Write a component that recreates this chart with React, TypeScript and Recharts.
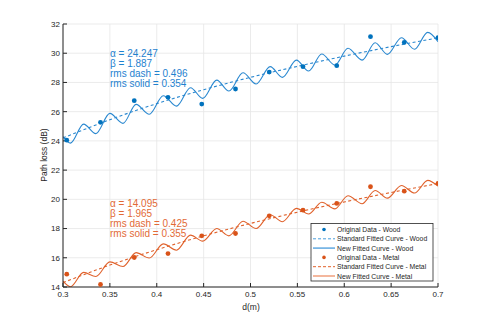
import {
  CartesianGrid,
  ComposedChart,
  Line,
  Scatter,
  XAxis,
  YAxis,
} from "recharts";

// measured points
const distance = [0.304, 0.34, 0.376, 0.412, 0.448, 0.484, 0.52, 0.556, 0.592, 0.628, 0.664, 0.7];
const woodMeasured = [24.05, 25.27, 26.75, 26.98, 26.52, 27.55, 28.71, 29.08, 29.15, 31.13, 30.74, 31.06];
const metalMeasured = [14.88, 14.17, 16.02, 16.29, 17.5, 17.66, 18.87, 19.26, 19.72, 20.86, 20.56, 21.09];

// standard (log-distance) fit
const fitDistance = [0.3, 0.35, 0.4, 0.45, 0.5, 0.55, 0.6, 0.65, 0.7];
const woodStandardFit = [24.2, 25.45, 26.55, 27.5, 28.35, 29.1, 29.8, 30.45, 31.05];
const metalStandardFit = [14.3, 15.5, 16.55, 17.5, 18.35, 19.12, 19.82, 20.47, 21.08];

// new fit: peaks and troughs of the wavy solid curves
const wavyDistance = [
  0.3, 0.308, 0.322, 0.335, 0.35, 0.364, 0.378, 0.392, 0.407, 0.421, 0.436, 0.449, 0.464, 0.477, 0.492,
  0.506, 0.521, 0.534, 0.549, 0.562, 0.576, 0.59, 0.604, 0.619, 0.633, 0.646, 0.661, 0.675, 0.689, 0.7,
];
const woodNewFit = [
  24.3, 23.85, 25.15, 24.5, 25.88, 25.2, 26.5, 25.82, 27.09, 26.38, 27.64, 26.91, 28.16, 27.41, 28.66,
  27.89, 29.08, 28.35, 29.53, 28.78, 29.95, 29.19, 30.34, 29.53, 30.72, 29.92, 31.06, 30.27, 31.43, 30.79,
];
const metalNewFit = [
  14.4, 14.02, 15.0, 14.72, 15.72, 15.4, 16.35, 15.98, 16.95, 16.52, 17.55, 17.14, 18.0, 17.5, 18.5,
  18.0, 18.95, 18.47, 19.38, 19.0, 19.8, 19.35, 20.25, 19.7, 20.6, 20.08, 20.95, 20.43, 21.3, 20.9,
];

const xTicks = [0.3, 0.35, 0.4, 0.45, 0.5, 0.55, 0.6, 0.65, 0.7];
const yTicks = [14, 16, 18, 20, 22, 24, 26, 28, 30, 32];

const woodNote = ["α = 24.247", "β = 1.887", "rms dash = 0.496", "rms solid = 0.354"];
const metalNote = ["α = 14.095", "β = 1.965", "rms dash = 0.425", "rms solid = 0.355"];

const legendItems = [
  { label: "Original Data - Wood", kind: "dot", color: "#0072BD" },
  { label: "Standard Fitted Curve - Wood", kind: "dash", color: "#4a9fdc" },
  { label: "New Fitted Curve - Wood", kind: "solid", color: "#6aaee2" },
  { label: "Original Data - Metal", kind: "dot", color: "#D95319" },
  { label: "Standard Fitted Curve - Metal", kind: "dash", color: "#e2622a" },
  { label: "New Fitted Curve - Metal", kind: "solid", color: "#f2a585" },
];

const WOOD = "#0072BD";
const WOOD_LINE = "#2a88d0";
const METAL = "#D95319";
const METAL_LINE = "#e0622c";
const FONT = "'Liberation Sans', Arial, sans-serif";

const zip = (xs: number[], ys: number[]) => xs.map((d, i) => ({ d, pl: ys[i] }));

const dot = (color: string) => (props: any) =>
  <circle cx={props.cx} cy={props.cy} r={2.4} fill={color} />;

const fmtX = (v: number) => `${v}`;

export default function App() {
  const tickStyle = { fontSize: 8, fill: "#262626", fontFamily: FONT };
  return (
    <div style={{ position: "absolute", left: 0, top: 0, background: "#fff" }}>
      <ComposedChart
        width={485}
        height={323}
        margin={{ top: 24, right: 47, bottom: 16, left: 23 }}
      >
        <CartesianGrid stroke="#e6e6e6" strokeWidth={0.8} />
        <XAxis
          type="number"
          dataKey="d"
          domain={[0.3, 0.7]}
          ticks={xTicks}
          tickFormatter={fmtX}
          height={20}
          tickSize={-4}
          tickMargin={8}
          tick={tickStyle}
          stroke="#262626"
          allowDataOverflow
        />
        <XAxis
          xAxisId="top"
          orientation="top"
          type="number"
          dataKey="d"
          domain={[0.3, 0.7]}
          ticks={xTicks}
          height={0}
          tickSize={-4}
          tick={false}
          stroke="#262626"
        />
        <YAxis
          type="number"
          domain={[14, 32]}
          ticks={yTicks}
          width={40}
          tickSize={-4}
          tickMargin={7}
          tick={tickStyle}
          stroke="#262626"
          allowDataOverflow
        />
        <YAxis
          yAxisId="right"
          orientation="right"
          type="number"
          domain={[14, 32]}
          ticks={yTicks}
          width={0}
          tickSize={-4}
          tick={false}
          stroke="#262626"
        />
        <Line
          data={zip(wavyDistance, woodNewFit)}
          dataKey="pl"
          type="monotone"
          stroke={WOOD_LINE}
          strokeWidth={1.1}
          dot={false}
          isAnimationActive={false}
        />
        <Line
          data={zip(fitDistance, woodStandardFit)}
          dataKey="pl"
          type="monotone"
          stroke={WOOD_LINE}
          strokeWidth={1.1}
          strokeDasharray="3 2.5"
          dot={false}
          isAnimationActive={false}
        />
        <Line
          data={zip(wavyDistance, metalNewFit)}
          dataKey="pl"
          type="monotone"
          stroke={METAL_LINE}
          strokeWidth={1.1}
          dot={false}
          isAnimationActive={false}
        />
        <Line
          data={zip(fitDistance, metalStandardFit)}
          dataKey="pl"
          type="monotone"
          stroke={METAL_LINE}
          strokeWidth={1.1}
          strokeDasharray="3 2.5"
          dot={false}
          isAnimationActive={false}
        />
        <Scatter
          data={zip(distance, woodMeasured)}
          dataKey="pl"
          shape={dot(WOOD)}
          isAnimationActive={false}
        />
        <Scatter
          data={zip(distance, metalMeasured)}
          dataKey="pl"
          shape={dot(METAL)}
          isAnimationActive={false}
        />

        {/* annotations */}
        <text x={110} y={56.5} fontFamily={FONT} fontSize={10} fill="#1f82cf">
          {woodNote.map((s, i) => (
            <tspan key={s} x={110} y={56.5 + i * 10.2}>{s}</tspan>
          ))}
        </text>
        <text x={110} y={206.5} fontFamily={FONT} fontSize={10} fill="#e26a36">
          {metalNote.map((s, i) => (
            <tspan key={s} x={110} y={206.5 + i * 10.2}>{s}</tspan>
          ))}
        </text>

        {/* axis titles */}
        <text x={251} y={310} textAnchor="middle" fontFamily={FONT} fontSize={8.5} fill="#262626">
          d(m)
        </text>
        <text
          x={47}
          y={155}
          textAnchor="middle"
          fontFamily={FONT}
          fontSize={8.5}
          fill="#262626"
          transform="rotate(-90 47 155)"
        >
          Path loss (dB)
        </text>

        {/* legend */}
        <g>
          <rect x={311} y={223.5} width={122} height={57.5} fill="#fff" stroke="#262626" strokeWidth={0.8} />
          {legendItems.map((it, i) => {
            const y = 229.5 + i * 9.3;
            return (
              <g key={it.label}>
                {it.kind === "dot" && <circle cx={324} cy={y} r={1.8} fill={it.color} />}
                {it.kind === "dash" && (
                  <line x1={313} x2={335} y1={y} y2={y} stroke={it.color} strokeWidth={1} strokeDasharray="3 2" />
                )}
                {it.kind === "solid" && (
                  <line x1={313} x2={335} y1={y} y2={y} stroke={it.color} strokeWidth={1.6} />
                )}
                <text x={337} y={y + 2.5} fontFamily={FONT} fontSize={6.8} fill="#262626">
                  {it.label}
                </text>
              </g>
            );
          })}
        </g>
      </ComposedChart>
    </div>
  );
}
